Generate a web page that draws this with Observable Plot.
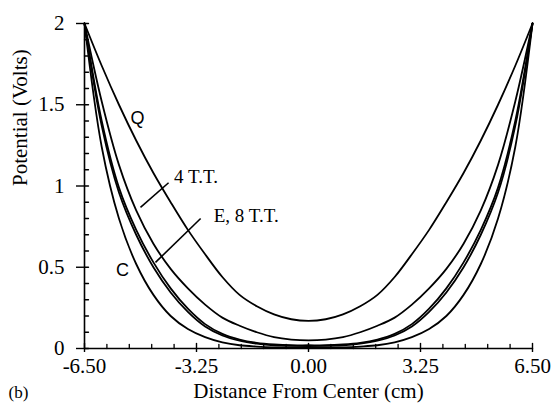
<!DOCTYPE html>
<html>
<head>
<meta charset="utf-8">
<script src="https://cdn.jsdelivr.net/npm/d3@7"></script>
<script src="https://cdn.jsdelivr.net/npm/@observablehq/plot@0.6"></script>
<style>
  html, body { margin: 0; padding: 0; background: #fff; }
</style>
</head>
<body>
<div id="chart"></div>
<script>
// Distance from center (cm)
const xs = [-6.5,-6,-5.5,-5,-4.5,-4,-3.5,-3,-2.5,-2,-1.5,-1,-0.5,0,0.5,1,1.5,2,2.5,3,3.5,4,4.5,5,5.5,6,6.5];
// Potential (Volts) for each configuration
const seriesQ   = [2.0,1.74,1.50,1.28,1.08,0.90,0.73,0.58,0.44,0.33,0.26,0.21,0.18,0.17,0.18,0.21,0.26,0.33,0.44,0.58,0.73,0.90,1.08,1.28,1.50,1.74,2.0];
const series4TT = [2.0,1.52,1.13,0.85,0.645,0.49,0.37,0.27,0.19,0.14,0.10,0.07,0.055,0.05,0.055,0.07,0.10,0.14,0.19,0.27,0.37,0.49,0.645,0.85,1.13,1.52,2.0];
const seriesE   = [2.0,1.40,0.99,0.73,0.53,0.37,0.245,0.15,0.09,0.055,0.035,0.025,0.02,0.02,0.02,0.025,0.035,0.055,0.09,0.15,0.245,0.37,0.53,0.73,0.99,1.40,2.0];
const series8TT = [2.0,1.37,0.96,0.70,0.50,0.345,0.225,0.135,0.08,0.048,0.03,0.02,0.016,0.015,0.016,0.02,0.03,0.048,0.08,0.135,0.225,0.345,0.50,0.70,0.96,1.37,2.0];
const seriesC   = [2.0,1.24,0.80,0.52,0.33,0.20,0.12,0.07,0.038,0.02,0.012,0.007,0.005,0.005,0.005,0.007,0.012,0.02,0.038,0.07,0.12,0.20,0.33,0.52,0.80,1.24,2.0];

const seriesNames = ["Q", "4 T.T.", "E", "8 T.T.", "C"];
const seriesValues = [seriesQ, series4TT, seriesE, series8TT, seriesC];

// Axis ticks
const xTicks = [-6.5, -3.25, 0, 3.25, 6.5];
const xTickLabels = ["-6.50", "-3.25", "0.00", "3.25", "6.50"];
const xMinorTicks = [-5.85,-5.2,-4.55,-3.9,-2.6,-1.95,-1.3,-0.65,0.65,1.3,1.95,2.6,3.9,4.55,5.2,5.85];
const yTicks = [0, 0.5, 1, 1.5, 2];
const yTickLabels = ["0", "0.5", "1", "1.5", "2"];
const yMinorTicks = [0.1,0.2,0.3,0.4,0.6,0.7,0.8,0.9,1.1,1.2,1.3,1.4,1.6,1.7,1.8,1.9];

// Annotations
const labels = [
  {text: "Q", x: -4.96, y: 1.42, font: "Liberation Sans"},
  {text: "4 T.T.", x: -3.9, y: 1.055, font: "Liberation Serif"},
  {text: "E, 8 T.T.", x: -2.75, y: 0.815, font: "Liberation Serif"},
  {text: "C", x: -5.4, y: 0.48, font: "Liberation Sans"}
];
const leaders = [
  {x1: -4.875, y1: 0.868, x2: -4.06, y2: 1.02},
  {x1: -4.44, y1: 0.53, x2: -3.13, y2: 0.80}
];

const rows = [];
seriesNames.forEach((name, k) => {
  xs.forEach((x, i) => rows.push({series: name, x, y: seriesValues[k][i]}));
});

const tickUp = {draw(context, l) { context.moveTo(0, 0); context.lineTo(0, -l); }};

const chart = Plot.plot({
  width: 553,
  height: 409,
  marginLeft: 84,
  marginRight: 21,
  marginTop: 23,
  marginBottom: 61,
  style: {fontFamily: "Liberation Serif", fontSize: "21px", color: "black", background: "white"},
  x: {domain: [-6.5, 6.5]},
  y: {domain: [0, 2]},
  marks: [
    Plot.line(rows, {x: "x", y: "y", z: "series", stroke: "black", strokeWidth: 1.8, curve: "catmull-rom"}),
    Plot.ruleY([0], {stroke: "black", strokeWidth: 1.6}),
    Plot.ruleX([-6.5], {stroke: "black", strokeWidth: 1.6}),
    Plot.axisX(xTicks, {tickSize: 4, tickPadding: 6, tickFormat: (d, i) => xTickLabels[i], fontSize: 21, label: null, strokeWidth: 1.4}),
    Plot.axisY(yTicks, {tickSize: 8, tickPadding: 12, tickFormat: (d, i) => yTickLabels[i], fontSize: 21, label: null, strokeWidth: 1.4}),
    Plot.vector(xTicks, {x: d => d, y: 0, length: 5, rotate: 0, anchor: "start", shape: tickUp, stroke: "black", strokeWidth: 1.4}),
    Plot.vector(xMinorTicks, {x: d => d, y: 0, length: 4, rotate: 0, anchor: "start", shape: tickUp, stroke: "black", strokeWidth: 1.3}),
    Plot.vector(yTicks, {x: -6.5, y: d => d, length: 4, rotate: 90, anchor: "start", shape: tickUp, stroke: "black", strokeWidth: 1.4}),
    Plot.vector(yMinorTicks, {x: -6.5, y: d => d, length: 4, rotate: 90, anchor: "start", shape: tickUp, stroke: "black", strokeWidth: 1.3}),
    Plot.link(leaders, {x1: "x1", y1: "y1", x2: "x2", y2: "y2", stroke: "black", strokeWidth: 1.6}),
    Plot.text(labels.filter(d => d.font === "Liberation Serif"), {x: "x", y: "y", text: "text", textAnchor: "start", fontSize: 19, fontFamily: "Liberation Serif"}),
    Plot.text(labels.filter(d => d.font === "Liberation Sans"), {x: "x", y: "y", text: "text", textAnchor: "middle", fontSize: 18, fontFamily: "Liberation Sans"}),
    Plot.text(["Distance From Center (cm)"], {frameAnchor: "bottom", dy: 49, text: d => d, fontSize: 21}),
    Plot.text(["(b)"], {frameAnchor: "bottom-left", dx: -76, dy: 49, textAnchor: "start", text: d => d, fontSize: 17}),
    Plot.text(["Potential (Volts)"], {frameAnchor: "left", dx: -64, rotate: -90, text: d => d, fontSize: 21})
  ]
});
document.getElementById("chart").appendChild(chart);
</script>
</body>
</html>
